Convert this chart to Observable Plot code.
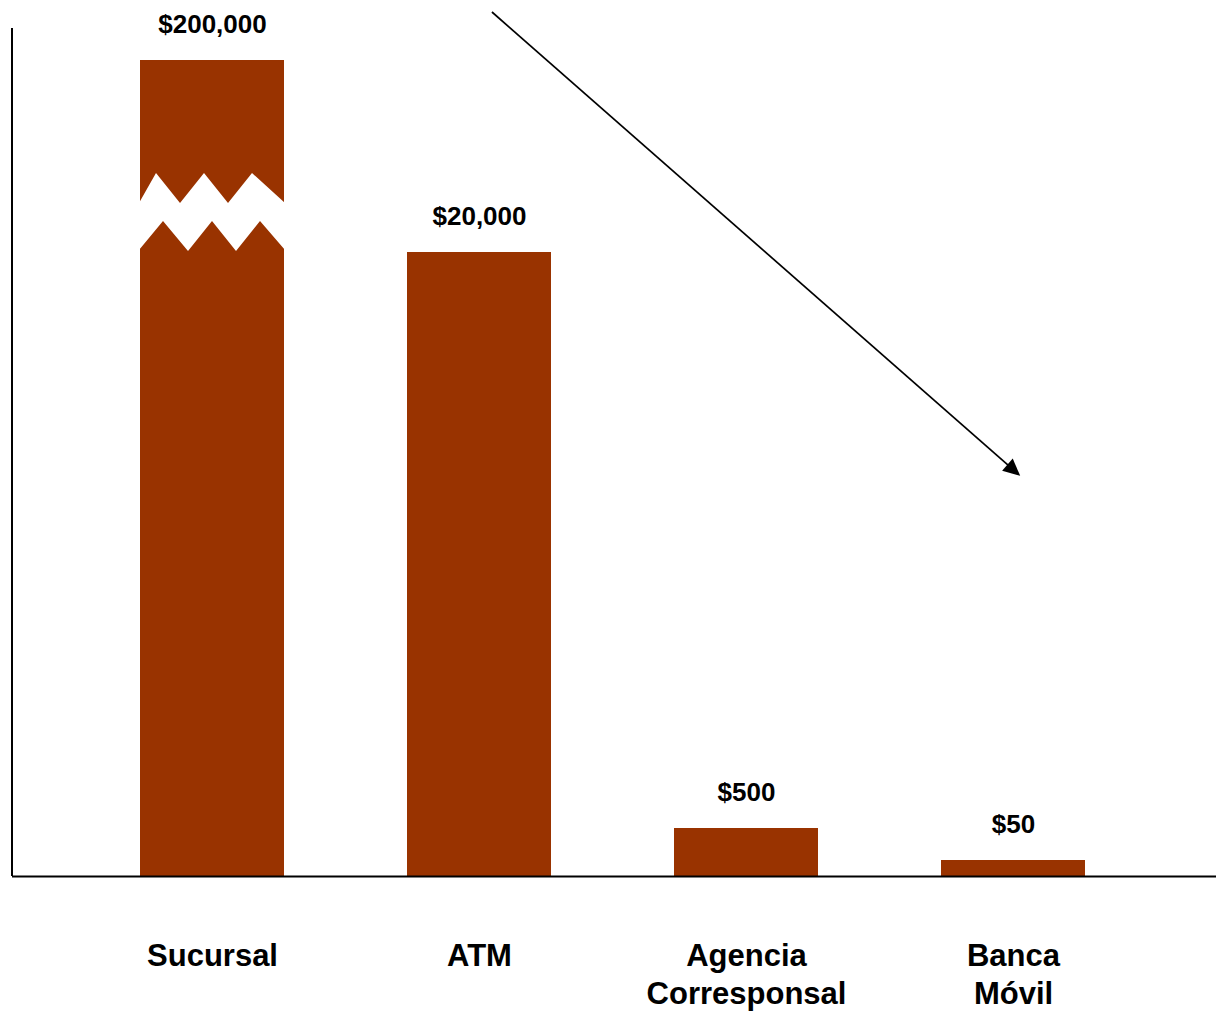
<!DOCTYPE html>
<html>
<head>
<meta charset="utf-8">
<script src="https://cdn.jsdelivr.net/npm/d3@7"></script>
<script src="https://cdn.jsdelivr.net/npm/@observablehq/plot@0.6"></script>
<style>
  html, body { margin: 0; padding: 0; background: #fff; }
  #chart svg { display: block; }
</style>
</head>
<body>
<div id="chart"></div>
<script>
// ---- data ----
const categories = ["Sucursal", "ATM", "Agencia\nCorresponsal", "Banca\nMóvil"];
const values = [200000, 20000, 500, 50];
// schematic (broken) value axis: breakpoints and their relative display heights
const axisBreaks = [0, 50, 500, 20000, 200000];
const breakHeights = [0, 16, 48, 624, 816];

const data = categories.map((c, i) => ({cat: c, value: values[i]}));
const fmt = v => "$" + d3.format(",")(v);
const brokenAxis = d3.scaleLinear().domain(axisBreaks).range(breakHeights);

const W = 1216, H = 1013, MT = 30, MB = 137, ML = 12, MR = 0;
const barColor = "#993300";

function annotations(...args) {
  let scales, dims;
  if (args.length >= 4 && args[1] && args[1].x) { scales = args[1]; dims = args[3]; }
  else { scales = args[0]; dims = args[1]; }
  const x = scales.x, y = scales.y;
  const bw = typeof x.bandwidth === "function" ? x.bandwidth() : x.bandwidth;
  const g = d3.create("svg:g");
  const top = dims.marginTop, bottom = dims.height - dims.marginBottom;
  const yPos = v => {
    const a = y(brokenAxis(v));
    return (a >= top - 1 && a <= bottom + 1) ? a : y(v);
  };

  // left axis line
  g.append("line").attr("x1", dims.marginLeft).attr("x2", dims.marginLeft)
    .attr("y1", top - 2).attr("y2", bottom).attr("stroke", "#000").attr("stroke-width", 2);

  // axis break on the first (tallest) bar, aligned with the second bar's top
  const bx = x(categories[0]);
  const ref = yPos(values[1]);
  const upX = [0, 16, 40, 64, 88, 112, 144].map(v => v / 144);
  const upY = [-49, -79, -49, -79, -49, -79, -49];
  const loX = [144, 120, 96, 72, 48, 23, 0].map(v => v / 144);
  const loY = [-2, -31, -1, -31, -1, -31, -2];
  const pts = [];
  upX.forEach((f, i) => pts.push([bx + f * bw + (f === 0 ? -1 : f === 1 ? 1 : 0), ref + upY[i]]));
  loX.forEach((f, i) => pts.push([bx + f * bw + (f === 0 ? -1 : f === 1 ? 1 : 0), ref + loY[i]]));
  g.append("polygon").attr("points", pts.map(p => p.join(",")).join(" ")).attr("fill", "#fff");

  // trend arrow
  const x1 = x(categories[1]) + bw * 0.59, y1 = top - 18;
  const x2 = x(categories[3]) + bw * 0.55, y2 = top + 0.527 * (bottom - top);
  const dx = x2 - x1, dy = y2 - y1, len = Math.hypot(dx, dy);
  const ux = dx / len, uy = dy / len;
  const hl = 17, hw = 8;
  const bxh = x2 - ux * hl, byh = y2 - uy * hl;
  g.append("line").attr("x1", x1).attr("y1", y1).attr("x2", bxh + ux * 2).attr("y2", byh + uy * 2)
    .attr("stroke", "#000").attr("stroke-width", 1.7);
  g.append("polygon")
    .attr("points", [[x2, y2], [bxh - uy * hw, byh + ux * hw], [bxh + uy * hw, byh - ux * hw]].map(p => p.join(",")).join(" "))
    .attr("fill", "#000");
  return g.node();
}

const chart = Plot.plot({
  width: W,
  height: H,
  marginTop: MT,
  marginBottom: MB,
  marginLeft: ML,
  marginRight: MR,
  style: {fontFamily: "'Liberation Sans', Arial, sans-serif", color: "#000", background: "#fff", overflow: "visible"},
  x: {type: "band", domain: categories, range: [78.5, 1146.5], paddingInner: 0.4607, paddingOuter: 0.23, axis: null},
  y: {type: "linear", transform: brokenAxis, domain: [0, breakHeights[breakHeights.length - 1]], range: [876, 60], axis: null},
  marks: [
    Plot.barY(data, {x: "cat", y: "value", fill: barColor}),
    Plot.ruleY([0], {stroke: "#000", strokeWidth: 2}),
    Plot.text(data, {x: "cat", y: "value", text: d => fmt(d.value), dy: -36,
      fontSize: 26, fontWeight: "bold", fill: "#000"}),
    Plot.text(data, {x: "cat", frameAnchor: "bottom", text: "cat", dy: 63, lineAnchor: "top",
      fontSize: 31, fontWeight: "bold", lineHeight: 1.226, fill: "#000"}),
    annotations
  ]
});
document.getElementById("chart").append(chart);
</script>
</body>
</html>
